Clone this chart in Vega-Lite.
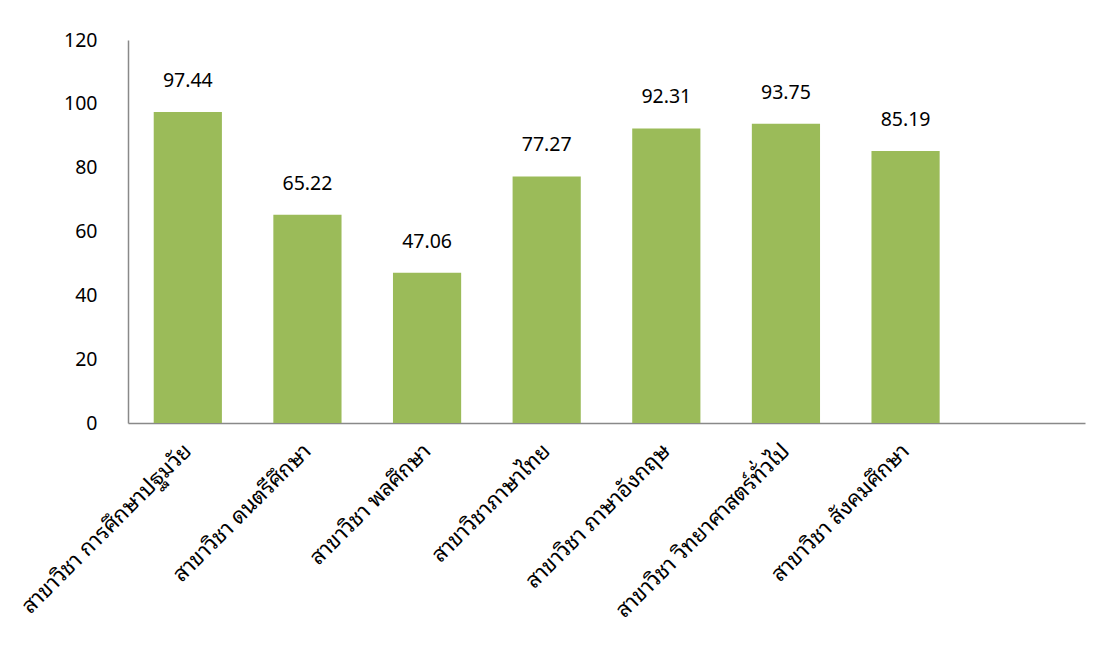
{
  "$schema": "https://vega.github.io/schema/vega-lite/v6.json",
  "autosize": "none",
  "width": 957,
  "height": 383,
  "padding": {"left": 128, "top": 40, "right": 23, "bottom": 227},
  "background": "white",
  "config": {
    "view": {"stroke": null},
    "font": "Noto Sans, Noto Sans Thai Looped, Noto Looped Thai, Noto Sans Thai, sans-serif"
  },
  "data": {
    "values": [
      {"major": "สาขาวิชา การศึกษาปฐมวัย", "value": 97.44},
      {"major": "สาขาวิชา ดนตรีศึกษา", "value": 65.22},
      {"major": "สาขาวิชา พลศึกษา", "value": 47.06},
      {"major": "สาขาวิชาภาษาไทย", "value": 77.27},
      {"major": "สาขาวิชา ภาษาอังกฤษ", "value": 92.31},
      {"major": "สาขาวิชา วิทยาศาสตร์ทั่วไป", "value": 93.75},
      {"major": "สาขาวิชา สังคมศึกษา", "value": 85.19}
    ]
  },
  "encoding": {
    "x": {
      "field": "major",
      "type": "nominal",
      "sort": null,
      "scale": {
        "domain": ["สาขาวิชา การศึกษาปฐมวัย", "สาขาวิชา ดนตรีศึกษา", "สาขาวิชา พลศึกษา", "สาขาวิชาภาษาไทย", "สาขาวิชา ภาษาอังกฤษ", "สาขาวิชา วิทยาศาสตร์ทั่วไป", "สาขาวิชา สังคมศึกษา", " "],
        "paddingInner": 0.43,
        "paddingOuter": 0.215
      },
      "axis": {
        "title": null,
        "labelAngle": -45,
        "labelAlign": "right",
        "labelBaseline": "middle",
        "labelPadding": 24,
        "labelFontSize": 22,
        "labelColor": "#000000",
        "labelLimit": 400,
        "ticks": false,
        "domainColor": "#898989",
        "domainWidth": 1.5
      }
    },
    "y": {
      "field": "value",
      "type": "quantitative",
      "scale": {"domain": [0, 120]},
      "axis": {
        "title": null,
        "values": [0, 20, 40, 60, 80, 100, 120],
        "grid": false,
        "ticks": false,
        "labelPadding": 31,
        "labelFontSize": 19.5,
        "labelColor": "#000000",
        "domainColor": "#898989",
        "domainWidth": 1.5
      }
    }
  },
  "layer": [
    {"mark": {"type": "bar", "color": "#9BBB59"}},
    {
      "mark": {"type": "text", "baseline": "bottom", "dy": -21, "fontSize": 19.5, "color": "#000000"},
      "encoding": {"text": {"field": "value", "type": "quantitative", "format": ".2f"}}
    }
  ]
}
